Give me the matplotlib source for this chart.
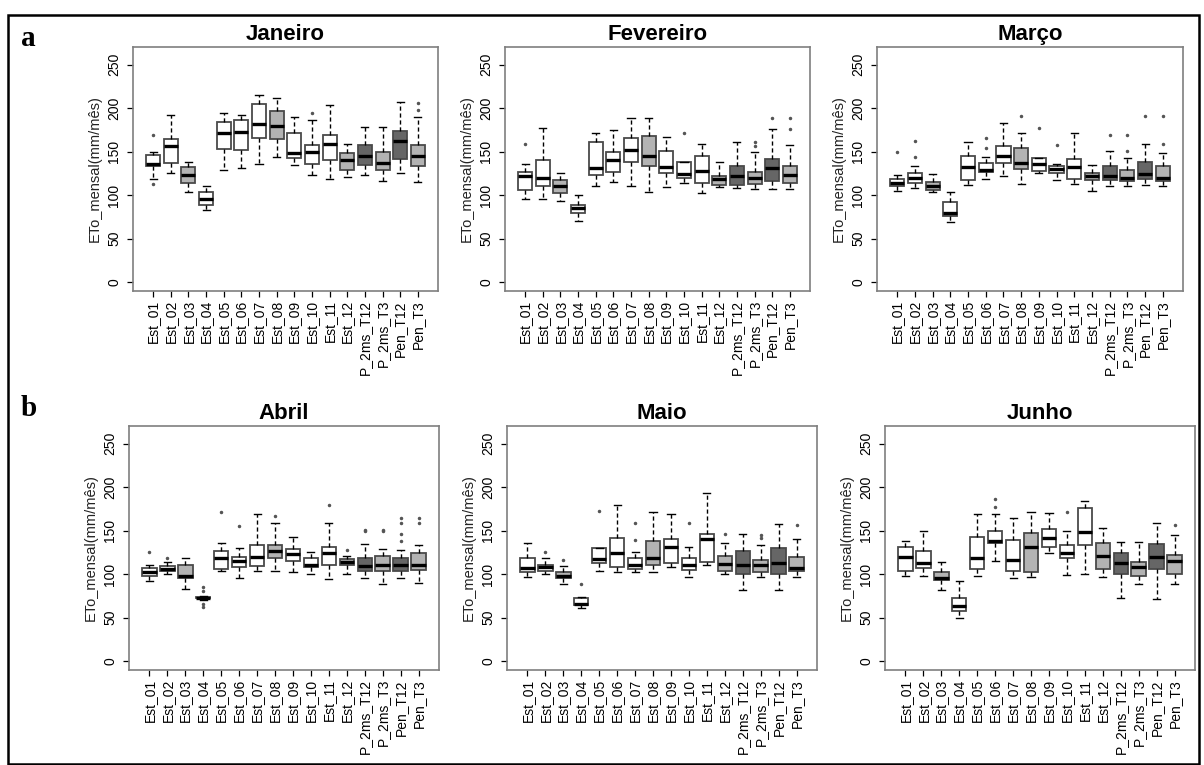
import matplotlib
matplotlib.use("Agg")
import matplotlib.pyplot as plt
from matplotlib.patches import Rectangle

plt.rcParams["font.family"] = ["Liberation Sans", "DejaVu Sans"]

stations = ["Est_01", "Est_02", "Est_03", "Est_04", "Est_05", "Est_06", "Est_07", "Est_08",
            "Est_09", "Est_10", "Est_11", "Est_12", "P_2ms_T12", "P_2ms_T3", "Pen_T12", "Pen_T3"]
box_colors = ["white", "white", "#b3b3b3", "white", "white", "white", "white", "#b3b3b3",
              "white", "white", "white", "#b3b3b3", "#666666", "#b3b3b3", "#666666", "#b3b3b3"]
months = ["Janeiro", "Fevereiro", "Março", "Abril", "Maio", "Junho"]

# (lower whisker, q1, median, q3, upper whisker) per station
jan_stats = [(119, 134, 136, 146, 149), (125, 137, 156, 164, 192), (104, 114, 123, 132, 138),
             (83, 88, 96, 103, 111), (129, 153, 171, 184, 195), (131, 152, 173, 186, 192),
             (136, 166, 182, 205, 215), (144, 165, 180, 197, 212), (135, 143, 148, 172, 190),
             (123, 136, 149, 158, 186), (118, 140, 159, 169, 204), (121, 129, 140, 148, 159),
             (123, 135, 145, 158, 178), (116, 129, 137, 150, 178), (125, 142, 162, 174, 207),
             (115, 134, 145, 158, 190)]
jan_fliers = [[113, 169], [], [], [], [], [], [], [], [], [195], [], [], [], [], [], [198, 206]]

feb_stats = [(95, 106, 122, 126, 136), (96, 111, 120, 140, 177), (93, 102, 110, 117, 125),
             (70, 79, 85, 89, 100), (111, 123, 131, 161, 171), (115, 126, 140, 149, 175),
             (110, 138, 152, 166, 189), (104, 133, 145, 168, 189), (109, 125, 132, 151, 167),
             (114, 120, 124, 138, 138), (102, 114, 128, 145, 159), (109, 112, 118, 122, 138),
             (108, 112, 122, 134, 161), (107, 113, 120, 127, 150), (107, 116, 131, 141, 176),
             (107, 114, 123, 133, 158)]
feb_fliers = [[159], [], [], [], [], [], [], [], [], [171], [], [], [], [156, 161], [189], [176, 189]]

mar_stats = [(105, 110, 114, 118, 123), (108, 114, 120, 125, 133), (103, 106, 111, 115, 124),
             (69, 76, 79, 92, 103), (112, 117, 132, 145, 161), (119, 127, 129, 137, 144),
             (122, 137, 145, 156, 183), (113, 130, 137, 154, 171), (125, 128, 136, 143, 143),
             (117, 125, 130, 134, 136), (113, 118, 132, 142, 172), (105, 117, 122, 125, 135),
             (110, 117, 122, 133, 151), (110, 116, 120, 129, 143), (112, 118, 124, 138, 159),
             (110, 116, 120, 133, 148)]
mar_fliers = [[149], [144, 162], [], [], [], [154, 166], [], [191], [177], [158], [], [],
              [169], [151, 169], [191], [159, 191]]

apr_stats = [(92, 98, 102, 107, 111), (100, 104, 106, 109, 114), (83, 96, 98, 110, 118),
             (70, 72, 73, 74, 75), (103, 106, 119, 126, 136), (96, 108, 115, 120, 130),
             (103, 109, 120, 134, 169), (104, 118, 126, 134, 159), (102, 115, 123, 129, 143),
             (100, 108, 110, 118, 125), (94, 110, 124, 131, 159), (100, 111, 114, 117, 121),
             (96, 104, 109, 118, 135), (89, 104, 110, 121, 129), (95, 104, 110, 118, 128),
             (90, 105, 110, 124, 134)]
apr_fliers = [[125], [118], [], [85, 81, 66, 62], [171], [155], [], [167], [], [], [179], [128],
              [149, 151], [149, 151], [138, 146, 159, 165], [159, 165]]

may_stats = [(97, 102, 107, 118, 136), (100, 104, 108, 111, 118), (88, 96, 98, 102, 109),
             (61, 64, 65, 72, 74), (104, 113, 117, 130, 130), (102, 108, 124, 141, 179),
             (102, 106, 110, 118, 125), (102, 110, 118, 138, 171), (108, 113, 131, 140, 169),
             (97, 105, 111, 119, 131), (110, 114, 140, 146, 193), (100, 104, 112, 121, 136),
             (82, 100, 110, 127, 146), (97, 102, 110, 116, 134), (82, 100, 113, 130, 158),
             (97, 104, 107, 120, 140)]
may_fliers = [[], [125], [116], [89], [173], [], [139, 159], [], [], [159], [], [146],
              [], [142, 145], [], [156]]

jun_stats = [(98, 104, 120, 131, 138), (98, 107, 113, 127, 149), (82, 93, 96, 102, 114),
             (50, 57, 63, 72, 92), (98, 106, 118, 143, 169), (115, 136, 138, 149, 169),
             (95, 104, 116, 139, 164), (97, 102, 131, 147, 172), (124, 131, 141, 152, 170),
             (99, 118, 124, 133, 149), (100, 134, 148, 176, 184), (97, 106, 121, 136, 153),
             (72, 100, 113, 124, 137), (88, 98, 108, 114, 137), (71, 106, 120, 135, 159),
             (89, 100, 115, 122, 145)]
jun_fliers = [[], [], [], [], [], [177, 186], [], [], [], [171], [], [], [], [], [], [157]]

all_stats = [jan_stats, feb_stats, mar_stats, apr_stats, may_stats, jun_stats]
all_fliers = [jan_fliers, feb_fliers, mar_fliers, apr_fliers, may_fliers, jun_fliers]

W, H = 1204, 765
fig = plt.figure(figsize=(W / 100, H / 100), dpi=100)

# axes boxes in pixels: left, top, right, bottom
panel_px = [(133, 47, 438, 291), (505, 47, 810, 291), (877, 47, 1183, 291),
            (129, 426, 439, 670), (507, 426, 817, 670), (885, 426, 1195, 670)]

for i, (month, stats, fliers, px) in enumerate(zip(months, all_stats, all_fliers, panel_px)):
    l, t, r, b = px
    ax = fig.add_axes([l / W, 1 - b / H, (r - l) / W, (b - t) / H])
    bxp_stats = []
    for name, s, f in zip(stations, stats, fliers):
        bxp_stats.append(dict(label=name, whislo=s[0], q1=s[1], med=s[2], q3=s[3],
                              whishi=s[4], fliers=f))
    parts = ax.bxp(bxp_stats, positions=range(1, 17), widths=0.8, capwidths=0.4,
                   patch_artist=True, showfliers=True,
                   boxprops=dict(edgecolor="#4a4a4a", linewidth=1.3),
                   medianprops=dict(color="black", linewidth=2.4),
                   whiskerprops=dict(color="black", linewidth=1.0, linestyle=(0, (3, 2))),
                   capprops=dict(color="black", linewidth=1.0),
                   flierprops=dict(marker=".", markersize=3, markerfacecolor="#555555",
                                   markeredgecolor="#555555", linestyle="none"))
    for patch, c in zip(parts["boxes"], box_colors):
        patch.set_facecolor(c)

    ax.set_xlim(0.5 - 0.64, 16.5 + 0.64)
    ax.set_ylim(-10.4, 270.4)
    ax.set_yticks([0, 50, 100, 150, 200, 250])
    ax.set_yticklabels(["0", "50", "100", "150", "200", "250"], rotation=90, va="center")
    ax.set_xticks(range(1, 17))
    ax.set_xticklabels(stations, rotation=90)
    ax.tick_params(axis="both", direction="out", length=4.5, width=0.9, labelsize=10,
                   colors="black")
    ax.tick_params(axis="y", pad=4)
    ax.tick_params(axis="x", pad=2)
    for sp in ax.spines.values():
        sp.set_color("#7f7f7f")
        sp.set_linewidth(1.2)
    ax.set_ylabel("ETo_mensal(mm/mês)", fontsize=10.5, labelpad=4, color="#222222")
    ax.set_title(month, fontsize=16, fontweight="bold", pad=5)

# outer frame and panel letters
fig.add_artist(Rectangle((8 / W, 1 - 764 / H), (1199 - 8) / W, (764 - 15) / H,
                         transform=fig.transFigure, fill=False, edgecolor="black", linewidth=1.8))
fig.text(21 / W, 1 - 38 / H, "a", fontsize=21, fontweight="bold", family="Liberation Serif",
         va="center", ha="left")
fig.text(21 / W, 1 - 408 / H, "b", fontsize=21, fontweight="bold", family="Liberation Serif",
         va="center", ha="left")

fig.savefig("out.png", dpi=100)
